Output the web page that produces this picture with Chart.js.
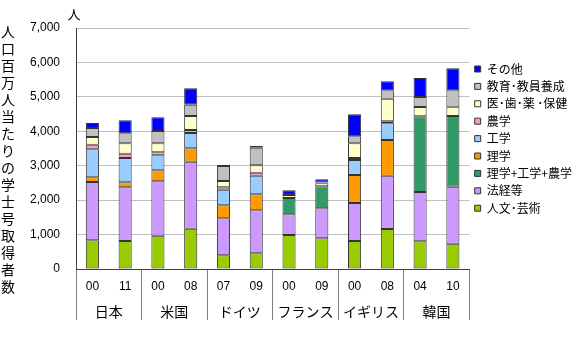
<!DOCTYPE html>
<html>
<head>
<meta charset="utf-8">
<script src="https://cdn.jsdelivr.net/npm/chart.js@4.4.1/dist/chart.umd.min.js"></script>
<style>
  html, body { margin: 0; padding: 0; background: #fff; }
  #wrap { width: 582px; height: 350px; }
</style>
</head>
<body>
<div id="wrap"><canvas id="chart"></canvas></div>
<script>
  // 年（各国2時点）
  const years = ['00', '11', '00', '08', '07', '09', '00', '09', '00', '08', '04', '10'];
  const countries = ['日本', '米国', 'ドイツ', 'フランス', 'イギリス', '韓国'];
  const yTicks = [0, 1000, 2000, 3000, 4000, 5000, 6000, 7000];

  // 人口百万人当たりの学士号取得者数（分野別）
  const humanities = [834, 813, 968, 1171, 398, 455, 988, 891, 813, 1162, 804, 736];
  const lawEcon = [1693, 1560, 1579, 1946, 1075, 1250, 601, 872, 1104, 1549, 1433, 1656];
  const sciEngAgr = [null, null, null, null, null, null, 474, 639, null, null, 2198, 2053];
  const science = [136, 145, 320, 389, 377, 465, null, null, 814, 1037, null, null];
  const engineering = [814, 707, 435, 445, 454, 541, null, null, 435, 484, null, null];
  const agriculture = [134, 125, 88, 87, 69, 87, null, null, 59, 58, null, null];
  const medical = [224, 301, 261, 407, 183, 213, 90, 90, 426, 657, 271, 271];
  const education = [261, 290, 358, 328, 436, 514, 25, 20, 203, 244, 291, 475];
  const others = [145, 377, 397, 476, 29, 48, 108, 93, 640, 261, 552, 639];

  const seriesNames = ['人文･芸術', '法経等', '理学+工学+農学', '理学', '工学', '農学', '医･歯･薬 ･保健', '教育･教員養成', 'その他'];
  const seriesData = [humanities, lawEcon, sciEngAgr, science, engineering, agriculture, medical, education, others];
  const seriesColors = ['#99CC00', '#CC99FF', '#339966', '#FF9900', '#99CCFF', '#FF99CC', '#FFFFCC', '#C0C0C0', '#0000FF'];

  const yTitle = '人口百万人当たりの学士号取得者数';
  const numFont = "'Liberation Sans', 'Noto Sans CJK JP', sans-serif";
  const jpFont = "'Noto Sans CJK JP', sans-serif";

  // 縦書きのタイトルと単位
  const textPlugin = {
    id: 'extraText',
    afterDraw(chart) {
      const ctx = chart.ctx;
      ctx.save();
      ctx.fillStyle = '#000';
      ctx.textAlign = 'center';
      ctx.textBaseline = 'middle';
      ctx.font = '14px ' + jpFont;
      [...yTitle].forEach((ch, i) => {
        ctx.fillText(ch, 8, 32 + i * 17);
      });
      ctx.font = '13px ' + jpFont;
      ctx.fillText('人', 74, 14);
      ctx.restore();
    }
  };

  const datasets = seriesNames.map((name, i) => ({
    label: name,
    data: seriesData[i],
    backgroundColor: seriesColors[i],
    borderColor: '#333333',
    borderWidth: 1,
    borderSkipped: false,
    categoryPercentage: 1,
    barPercentage: 0.4
  }));

  new Chart(document.getElementById('chart'), {
    type: 'bar',
    data: { labels: years, datasets: datasets },
    plugins: [textPlugin],
    options: {
      responsive: true,
      maintainAspectRatio: false,
      animation: false,
      layout: { padding: { left: 0, top: 28, right: 0, bottom: 30 } },
      plugins: {
        tooltip: { enabled: false },
        legend: {
          position: 'right',
          align: 'start',
          reverse: true,
          maxWidth: 113,
          title: { display: true, text: '', font: { size: 1, lineHeight: 1 }, padding: { top: 28.6, bottom: 0 } },
          labels: {
            boxWidth: 6,
            boxHeight: 6,
            padding: 5.4,
            color: '#000',
            font: { size: 12, family: jpFont }
          }
        }
      },
      scales: {
        x: {
          stacked: true,
          weight: 0,
          grid: {
            display: true,
            drawOnChartArea: false,
            drawTicks: true,
            offset: true,
            tickLength: 51,
            lineWidth: 1,
            color: c => (c.index === undefined || c.index % 2 === 0) ? '#808080' : 'rgba(0,0,0,0)'
          },
          border: { display: true, color: '#404040', width: 1 },
          ticks: {
            autoSkip: false,
            maxRotation: 0,
            padding: -41,
            color: '#000',
            font: { size: 12, family: numFont }
          },
          afterFit: s => { s.height = 25; }
        },
        x2: {
          type: 'category',
          position: 'bottom',
          labels: countries,
          offset: true,
          weight: 1,
          grid: { display: false, drawTicks: false },
          border: { display: false },
          ticks: {
            autoSkip: false,
            maxRotation: 0,
            padding: 9,
            color: '#000',
            font: { size: 14, family: jpFont }
          },
          afterFit: s => { s.height = 26; }
        },
        y: {
          stacked: true,
          min: 0,
          max: 7000,
          grid: { color: '#c0c0c0', lineWidth: 1, drawTicks: false },
          border: { display: true, color: '#404040', width: 1 },
          afterBuildTicks: s => { s.ticks = yTicks.map(v => ({ value: v })); },
          ticks: {
            padding: 16,
            color: '#000',
            font: { size: 12, family: numFont },
            callback: v => v.toLocaleString('en-US')
          },
          afterFit: s => { s.width = 76; }
        }
      }
    }
  });
</script>
</body>
</html>
